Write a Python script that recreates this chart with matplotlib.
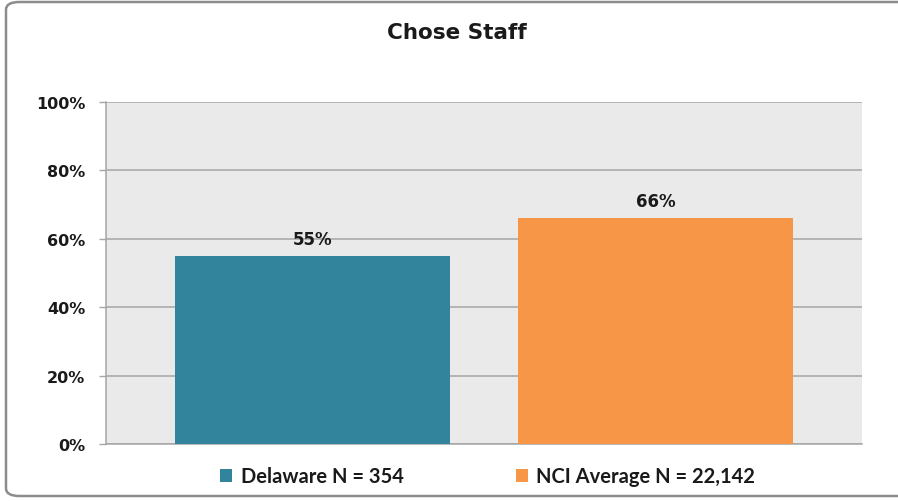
import matplotlib.pyplot as plt
from matplotlib.patches import FancyBboxPatch

# data
series = ["Delaware N = 354", "NCI Average N = 22,142"]
values = [55, 66]
colors = ["#31849B", "#F79646"]
yticks = [0, 20, 40, 60, 80, 100]

W, H = 898, 502
fig = plt.figure(figsize=(W / 100, H / 100), dpi=100)

# rounded outer frame
frame = FancyBboxPatch((6 / W, 5 / H), (W + 20 - 6) / W, (H - 8) / H,
                       boxstyle="round,pad=0,rounding_size=0.015",
                       transform=fig.transFigure, fill=False,
                       edgecolor="#8C8C8C", linewidth=1.8, clip_on=False)
fig.patches.append(frame)

# plot area in pixel terms: left 106, right 862, top 103, bottom 445
ax = fig.add_axes([106 / W, (H - 445) / H, (862 - 106) / W, (445 - 103) / H])
ax.set_facecolor("#EAEAEA")

offsets = [-0.4537, 0.4537]
width = 0.7275
for off, v, c, name in zip(offsets, values, colors, series):
    ax.bar(off, v, width=width, color=c, label=name, zorder=3)
    ax.annotate(f"{v}%", (off, v), xytext=(0, 6), textcoords="offset points",
                ha="center", va="bottom", fontsize=12, fontweight="bold",
                family="DejaVu Sans", color="#1a1a1a", zorder=4)

ax.set_xlim(-1, 1)
ax.set_ylim(0, 100)
ax.set_yticks(yticks)
ax.set_yticklabels([f"{t}%" for t in yticks], fontsize=11.5, fontweight="bold",
                   family="DejaVu Sans", color="#1a1a1a")
ax.set_xticks([])
ax.grid(axis="y", color="#A6A6A6", linewidth=1.1, zorder=1)
ax.tick_params(axis="y", length=5, width=1, color="#A6A6A6", pad=10)
for s in ["top", "right"]:
    ax.spines[s].set_visible(False)
for s in ["left", "bottom"]:
    ax.spines[s].set_color("#A6A6A6")
    ax.spines[s].set_linewidth(1.1)

fig.text(457 / W, 1 - 33 / H, "Chose Staff", ha="center", va="center",
         fontsize=15.5, fontweight="bold", family="DejaVu Sans", color="#1a1a1a")

leg = ax.legend(loc="center", bbox_to_anchor=(0.505, -0.095), ncol=2, frameon=False,
                handlelength=0.6, handleheight=0.6, handletextpad=0.4,
                columnspacing=5.6, prop={"family": "Lato", "weight": "bold", "size": 14.5})
for t in leg.get_texts():
    t.set_color("#1a1a1a")

fig.savefig("out.png", dpi=100)
